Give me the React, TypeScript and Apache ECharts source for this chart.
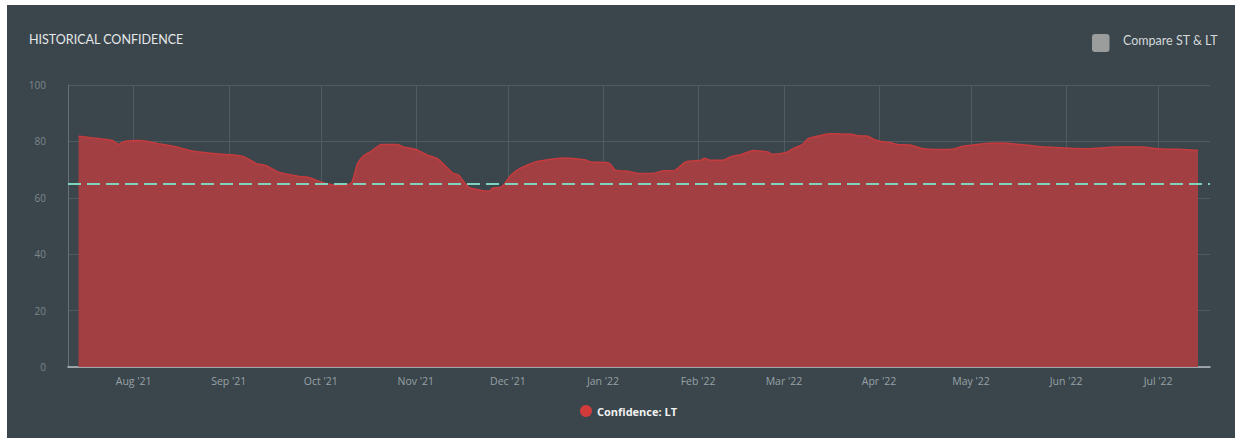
import React, { useEffect, useRef } from "react";
import * as echarts from "echarts";

const dates: string[] = [
  "2021-07-14", "2021-07-18", "2021-07-25", "2021-07-27", "2021-07-29", "2021-08-03",
  "2021-08-09", "2021-08-15", "2021-08-20", "2021-08-26", "2021-09-01", "2021-09-06",
  "2021-09-10", "2021-09-13", "2021-09-17", "2021-09-24", "2021-09-27", "2021-10-01",
  "2021-10-05", "2021-10-07", "2021-10-09", "2021-10-11", "2021-10-13", "2021-10-15",
  "2021-10-17", "2021-10-21", "2021-10-26", "2021-10-28", "2021-11-01", "2021-11-05",
  "2021-11-08", "2021-11-13", "2021-11-15", "2021-11-18", "2021-11-22", "2021-11-25",
  "2021-11-26", "2021-11-29", "2021-12-02", "2021-12-05", "2021-12-10", "2021-12-14",
  "2021-12-19", "2021-12-26", "2021-12-28", "2022-01-03", "2022-01-05", "2022-01-09",
  "2022-01-13", "2022-01-17", "2022-01-21", "2022-01-24", "2022-01-28", "2022-02-02",
  "2022-02-03", "2022-02-05", "2022-02-09", "2022-02-12", "2022-02-15", "2022-02-19",
  "2022-02-21", "2022-02-24", "2022-02-25", "2022-03-02", "2022-03-04", "2022-03-07",
  "2022-03-09", "2022-03-13", "2022-03-16", "2022-03-23", "2022-03-25", "2022-03-28",
  "2022-03-31", "2022-04-02", "2022-04-04", "2022-04-07", "2022-04-11", "2022-04-15",
  "2022-04-20", "2022-04-25", "2022-04-28", "2022-05-03", "2022-05-06", "2022-05-11",
  "2022-05-17", "2022-05-22", "2022-05-27", "2022-06-07", "2022-06-18", "2022-06-25",
  "2022-07-02", "2022-07-08", "2022-07-14",
];

const confidenceLT: number[] = [
  81.8, 81.3, 80.3, 79.0, 80.0, 80.3,
  79.2, 78.0, 76.6, 75.8, 75.3, 74.5,
  72.1, 71.5, 69.2, 67.6, 67.2, 65.6,
  64.5, 64.3, 64.6, 65.2, 72.1, 75.0,
  76.2, 78.9, 78.9, 78.0, 77.1, 75.0,
  73.9, 68.8, 68.0, 63.9, 62.7, 62.3,
  63.4, 63.9, 68.0, 70.4, 72.7, 73.5,
  74.1, 73.5, 72.7, 72.3, 69.8, 69.4,
  68.6, 68.6, 69.6, 69.6, 72.7, 73.3,
  74.0, 73.3, 73.3, 74.7, 75.3, 76.8,
  76.6, 76.2, 75.4, 76.2, 77.4, 78.9,
  81.0, 82.1, 82.7, 82.5, 82.0, 81.9,
  80.4, 79.9, 79.7, 78.9, 78.7, 77.5,
  77.1, 77.2, 78.2, 78.9, 79.3, 79.4,
  78.9, 78.3, 77.9, 77.4, 78.0, 78.0,
  77.3, 77.2, 76.8,
];

const threshold = 65;
const yTicks = [0, 20, 40, 60, 80, 100];
const monthNames = ["Jan", "Feb", "Mar", "Apr", "May", "Jun", "Jul", "Aug", "Sep", "Oct", "Nov", "Dec"];
const seriesName = "Confidence: LT";
const titleText = "HISTORICAL CONFIDENCE";
const toggleText = "Compare ST & LT";

function toTs(s: string): number {
  const [y, m, d] = s.split("-").map(Number);
  return new Date(y, m - 1, d).getTime();
}

export default function App() {
  const ref = useRef<HTMLDivElement>(null);

  useEffect(() => {
    if (!ref.current) return;
    const chart = echarts.init(ref.current, null, { renderer: "svg" });
    const day = 864e5;
    const data = dates.map((d, i) => [toTs(d), confidenceLT[i]]);
    const option: any = {
      animation: false,
      backgroundColor: "#3a464c",
      textStyle: { fontFamily: "Open Sans" },
      grid: { left: 61, right: 25, top: 80, bottom: 71, containLabel: false },
      legend: {
        left: 568,
        top: 395,
        icon: "circle",
        itemWidth: 12,
        itemHeight: 12,
        itemGap: 10,
        textStyle: { color: "#f2f2f2", fontWeight: "bold", fontSize: 11, fontFamily: "Open Sans" },
        data: [{ name: seriesName, itemStyle: { color: "#d23b3b" } }],
      },
      xAxis: {
        type: "time",
        min: new Date(2021, 6, 10, 14).getTime(),
        max: new Date(2022, 6, 17, 22).getTime(),
        minInterval: 28 * day,
        maxInterval: 31 * day,
        axisLine: { show: true, lineStyle: { color: "#b8bfc3", width: 1.5 } },
        axisTick: { show: false },
        axisLabel: {
          color: "#98a1a6",
          fontSize: 10.5,
          margin: 8,
          showMinLabel: false,
          showMaxLabel: false,
          formatter: (v: number) => {
            const dt = new Date(v);
            return monthNames[dt.getMonth()] + " '" + String(dt.getFullYear()).slice(2);
          },
        },
        splitLine: {
          show: true,
          showMinLine: false,
          showMaxLine: false,
          lineStyle: { color: "#505b61", width: 1 },
        },
      },
      yAxis: {
        type: "value",
        min: 0,
        max: 100,
        interval: 20,
        axisLine: { show: true, lineStyle: { color: "#667176", width: 1 } },
        axisTick: { show: false },
        axisLabel: {
          color: "#7c868b",
          fontSize: 10,
          margin: 22,
          formatter: (v: number) => (yTicks.includes(v) ? String(v) : ""),
        },
        splitLine: { show: true, lineStyle: { color: "#505b61", width: 1 } },
      },
      series: [
        {
          name: seriesName,
          type: "line",
          data,
          smooth: 0.25,
          showSymbol: false,
          symbol: "none",
          itemStyle: { color: "#d23b3b" },
          lineStyle: { color: "#c63b3d", width: 1.5 },
          areaStyle: { color: "rgba(168, 63, 67, 0.94)", opacity: 1, origin: "start" },
          markLine: {
            silent: true,
            symbol: "none",
            label: { show: false },
            lineStyle: { color: "#7fd3bd", width: 2, type: [13, 6] },
            data: [{ yAxis: threshold }],
          },
          z: 2,
        },
      ],
      graphic: [
        {
          type: "text",
          left: 22,
          top: 28,
          style: { text: titleText, fill: "#e6e8e9", fontSize: 12.5, fontFamily: "Lato" },
        },
        {
          type: "rect",
          left: 1085,
          top: 29,
          shape: { width: 17.5, height: 18, r: 3 },
          style: { fill: "#9b9c9c" },
        },
        {
          type: "text",
          left: 1116,
          top: 29,
          style: { text: toggleText, fill: "#d4d8da", fontSize: 12.5, fontFamily: "Lato" },
        },
      ],
    };
    chart.setOption(option);
    return () => chart.dispose();
  }, []);

  return (
    <div style={{ position: "absolute", left: 0, top: 0, width: 1235, height: 438, background: "#ffffff", overflow: "hidden" }}>
      <div style={{ position: "absolute", left: 257, top: 5, width: 543, height: 2, background: "#4a5559" }} />
      <div style={{ position: "absolute", left: 800, top: 5, width: 435, height: 3, background: "#2c3338" }} />
      <div
        ref={ref}
        style={{ position: "absolute", left: 7, top: 5, width: 1228, height: 433 }}
      />
    </div>
  );
}
